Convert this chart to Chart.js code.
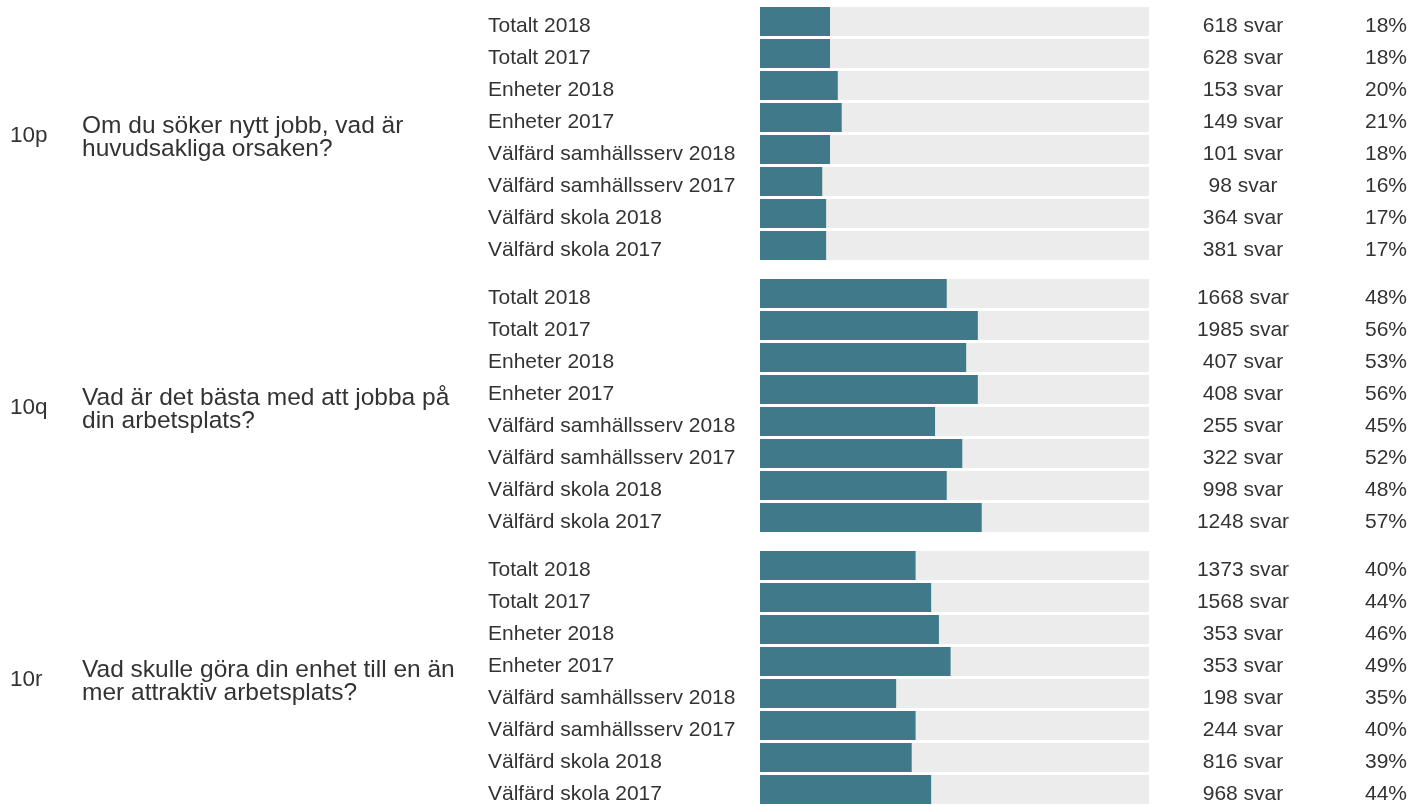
<!DOCTYPE html>
<html>
<head>
<meta charset="utf-8">
<script src="https://cdn.jsdelivr.net/npm/chart.js@4/dist/chart.umd.min.js"></script>
<style>
  html, body { margin: 0; padding: 0; background: #fff; overflow: hidden; }
  body { width: 1424px; height: 805px; position: relative; }
  .grp { position: absolute; left: 0; width: 1424px; height: 272px; }
</style>
</head>
<body>
<div class="grp" style="top:0px"><canvas id="g0"></canvas></div>
<div class="grp" style="top:272px"><canvas id="g1"></canvas></div>
<div class="grp" style="top:544px"><canvas id="g2"></canvas></div>
<script>
// Row labels shared by all three questions
const rowLabels = [
  'Totalt 2018', 'Totalt 2017', 'Enheter 2018', 'Enheter 2017',
  'Välfärd samhällsserv 2018', 'Välfärd samhällsserv 2017',
  'Välfärd skola 2018', 'Välfärd skola 2017'
];

const questionCodes = ['10p', '10q', '10r'];
const questionTexts = [
  ['Om du söker nytt jobb, vad är', 'huvudsakliga orsaken?'],
  ['Vad är det bästa med att jobba på', 'din arbetsplats?'],
  ['Vad skulle göra din enhet till en än', 'mer attraktiv arbetsplats?']
];

// Share of respondents (%) per row
const pct10p = [18, 18, 20, 21, 18, 16, 17, 17];
const pct10q = [48, 56, 53, 56, 45, 52, 48, 57];
const pct10r = [40, 44, 46, 49, 35, 40, 39, 44];

// Number of answers per row
const n10p = [618, 628, 153, 149, 101, 98, 364, 381];
const n10q = [1668, 1985, 407, 408, 255, 322, 998, 1248];
const n10r = [1373, 1568, 353, 353, 198, 244, 816, 968];

const allPct = [pct10p, pct10q, pct10r];
const allN = [n10p, n10q, n10r];
const fullScale = rowLabels.map(() => 100);

const FONT = '"Liberation Sans", Arial, Helvetica, sans-serif';
const TEXT = '#333333';

function textPlugin(gi) {
  return {
    id: 'rowText' + gi,
    afterDraw(chart) {
      const ctx = chart.ctx;
      const y = chart.scales.y;
      ctx.save();
      ctx.fillStyle = TEXT;
      ctx.font = '21px ' + FONT;
      ctx.textBaseline = 'middle';
      rowLabels.forEach((lab, i) => {
        const py = y.getPixelForValue(i) + 4.5;
        ctx.textAlign = 'left';
        ctx.fillText(lab, 488, py);
        ctx.textAlign = 'center';
        ctx.fillText(allN[gi][i] + ' svar', 1243, py);
        ctx.textAlign = 'right';
        ctx.fillText(allPct[gi][i] + '%', 1407, py);
      });
      // Question code and wording, centred on the group
      const mid = (y.getPixelForValue(0) + y.getPixelForValue(rowLabels.length - 1)) / 2;
      ctx.textAlign = 'left';
      ctx.font = '22.5px ' + FONT;
      ctx.fillText(questionCodes[gi], 10, mid + 2);
      ctx.font = '24.5px ' + FONT;
      const lines = questionTexts[gi];
      ctx.fillText(lines[0], 82, mid - 7);
      ctx.fillText(lines[1], 82, mid + 16);
      ctx.restore();
    }
  };
}

[0, 1, 2].forEach(gi => {
  new Chart(document.getElementById('g' + gi), {
    type: 'bar',
    data: {
      labels: rowLabels,
      datasets: [
        {
          data: allPct[gi],
          backgroundColor: '#407a8a',
          grouped: false,
          barPercentage: 29 / 32,
          categoryPercentage: 1
        },
        {
          data: fullScale,
          backgroundColor: '#ececec',
          grouped: false,
          barPercentage: 29 / 32,
          categoryPercentage: 1
        }
      ]
    },
    options: {
      indexAxis: 'y',
      responsive: true,
      maintainAspectRatio: false,
      animation: false,
      layout: { padding: { left: 760, right: 275, top: 5.5, bottom: 10.5 } },
      scales: {
        x: { display: false, min: 0, max: 100 },
        y: { display: false }
      },
      plugins: { legend: { display: false }, tooltip: { enabled: false } }
    },
    plugins: [textPlugin(gi)]
  });
});
</script>
</body>
</html>
